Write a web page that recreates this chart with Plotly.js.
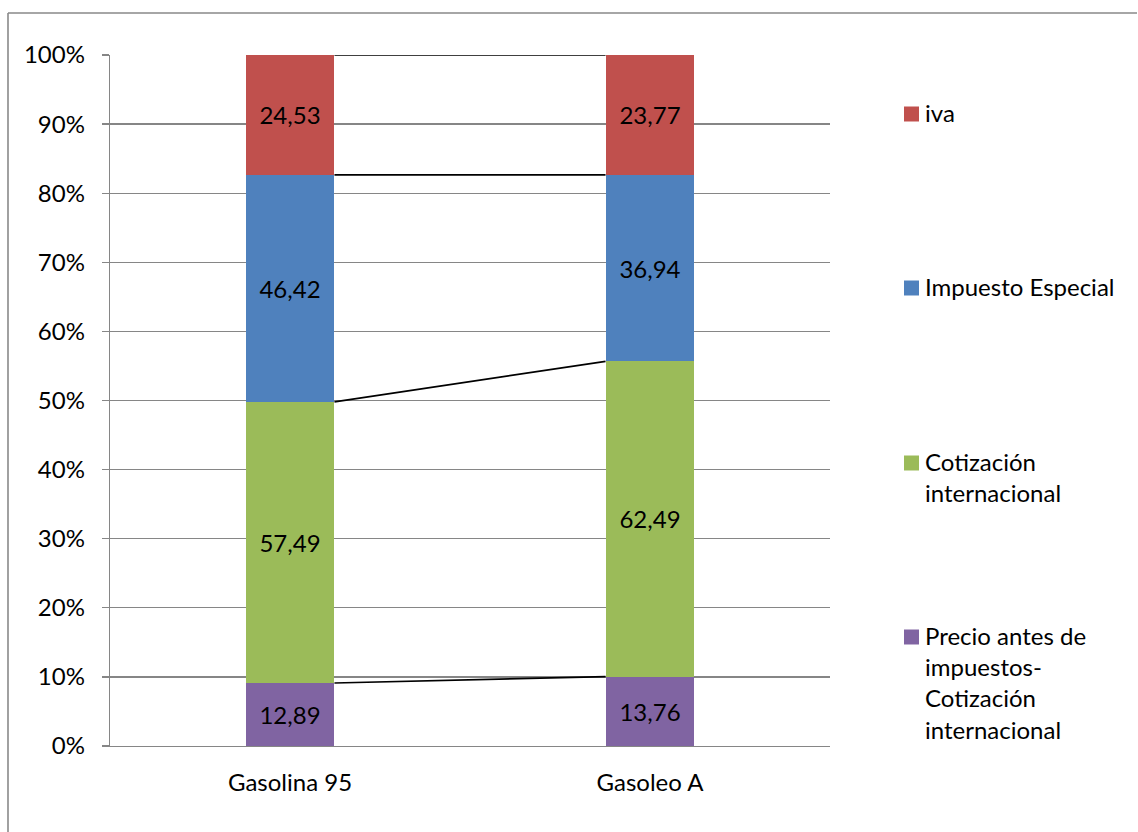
<!DOCTYPE html>
<html>
<head>
<meta charset="utf-8">
<script src="https://cdn.plot.ly/plotly-3.0.1.min.js"></script>
<style>html,body{margin:0;padding:0;background:#fff;}#chart{width:1138px;height:832px;}</style>
</head>
<body>
<div id="chart"></div>
<script>
// ---- data ----
var categories = ["Gasolina 95", "Gasoleo A"];
var seriesNames = ["Precio antes de impuestos-Cotización internacional", "Cotización internacional", "Impuesto Especial", "iva"];
var legendLabels = ["Precio antes de<br>impuestos-<br>Cotización<br>internacional", "Cotización<br>internacional", "Impuesto Especial", "iva"];
var precioAntes = [12.89, 13.76];
var cotizacion = [57.49, 62.49];
var impuestoEspecial = [46.42, 36.94];
var iva = [24.53, 23.77];
var yTickVals = [0, 10, 20, 30, 40, 50, 60, 70, 80, 90, 100];

// ---- styling / layout ----
var colors = ["#8064A2", "#9BBB59", "#4F81BD", "#C0504D"];
var FONT = "Lato, 'Liberation Sans', sans-serif";
var FS = 24;
var W = 1138, H = 832;
var L = 110, R = 830, T = 55, B = 746;
var PW = R - L, PH = B - T;
var barW = 0.247;
function px(p) { return (p - L) / PW; }
function py(p) { return (B - p) / PH; }

var series = [precioAntes, cotizacion, impuestoEspecial, iva];
var xs = categories.map(function (c, i) { return i; });

function fmt(v) { return v.toFixed(2).replace('.', ','); }

var traces = [];
series.forEach(function (vals, k) {
  traces.push({
    type: 'bar',
    name: seriesNames[k],
    x: xs,
    y: vals,
    width: xs.map(function () { return barW; }),
    marker: { color: colors[k], line: { width: 0 } },
    text: vals.map(fmt),
    textposition: 'inside',
    insidetextanchor: 'middle',
    textangle: 0,
    constraintext: 'none',
    textfont: { family: FONT, size: FS, color: '#000000' },
    hoverinfo: 'skip',
    showlegend: false
  });
});

// series lines connecting the tops of each segment
var totals = xs.map(function (i) {
  return series.reduce(function (s, arr) { return s + arr[i]; }, 0);
});
var cum = [0, 0];
series.forEach(function (vals) {
  cum = cum.map(function (c, i) { return c + vals[i]; });
  traces.push({
    type: 'scatter',
    mode: 'lines',
    x: [xs[0] + barW / 2, xs[1] - barW / 2],
    y: [cum[0] / totals[0] * 100, cum[1] / totals[1] * 100],
    line: { color: '#000000', width: 1.7 },
    hoverinfo: 'skip',
    showlegend: false
  });
});

// custom legend (right side)
var shapes = [];
var annotations = [];
var legendCentersPx = [637, 463, 288, 114];
var sq = 15;
for (var k = 0; k < series.length; k++) {
  var cy = legendCentersPx[k];
  shapes.push({
    type: 'rect', xref: 'paper', yref: 'paper',
    x0: px(904), x1: px(904 + sq), y0: py(cy + sq / 2), y1: py(cy - sq / 2),
    fillcolor: colors[k], line: { width: 0 }
  });
  annotations.push({
    xref: 'paper', yref: 'paper',
    x: px(924), y: py(cy - FS * 1.3 / 2 - 1),
    xanchor: 'left', yanchor: 'top', align: 'left',
    text: legendLabels[k], showarrow: false, borderpad: 0,
    font: { family: FONT, size: FS, color: '#000000' }
  });
}
// outer chart border (top and left visible)
shapes.push({ type: 'line', xref: 'paper', yref: 'paper', x0: px(8), x1: px(1137), y0: py(13), y1: py(13), line: { color: '#898989', width: 1.6 } });
shapes.push({ type: 'line', xref: 'paper', yref: 'paper', x0: px(8), x1: px(8), y0: py(13), y1: py(832), line: { color: '#898989', width: 1.6 } });

var layout = {
  width: W, height: H,
  margin: { l: L, r: W - R, t: T, b: H - B, pad: 0 },
  paper_bgcolor: '#ffffff', plot_bgcolor: '#ffffff',
  barmode: 'stack',
  barnorm: 'percent',
  showlegend: false,
  font: { family: FONT, size: FS, color: '#000000' },
  xaxis: {
    range: [-0.5, 1.5],
    tickmode: 'array', tickvals: xs, ticktext: categories,
    showgrid: false, zeroline: false,
    showline: true, linecolor: '#868686', linewidth: 1.3,
    ticks: '', ticklabelstandoff: 15,
    tickfont: { family: FONT, size: FS, color: '#000000' },
    fixedrange: true
  },
  yaxis: {
    range: [0, 100],
    tickmode: 'array', tickvals: yTickVals,
    ticktext: yTickVals.map(function (v) { return v + '%'; }),
    showgrid: true, gridcolor: '#868686', gridwidth: 1.3,
    zeroline: false,
    showline: true, linecolor: '#868686', linewidth: 1.3,
    ticks: 'outside', ticklen: 7, tickcolor: '#868686', tickwidth: 1.3,
    ticklabelstandoff: 12,
    tickfont: { family: FONT, size: FS, color: '#000000' },
    fixedrange: true
  },
  shapes: shapes,
  annotations: annotations
};

Plotly.newPlot('chart', traces, layout, { staticPlot: true, displayModeBar: false });
</script>
</body>
</html>
